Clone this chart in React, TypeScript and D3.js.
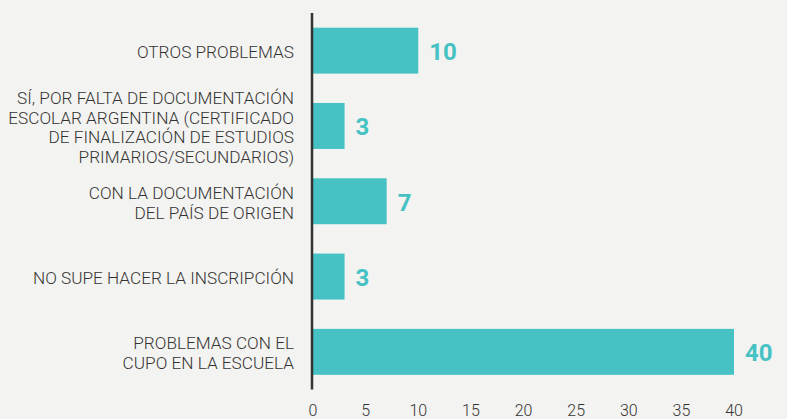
import React from "react";
import * as d3 from "d3";

const categories: string[][] = [
  ["OTROS PROBLEMAS"],
  ["SÍ, POR FALTA DE DOCUMENTACIÓN", "ESCOLAR ARGENTINA (CERTIFICADO", "DE FINALIZACIÓN DE ESTUDIOS", "PRIMARIOS/SECUNDARIOS)"],
  ["CON LA DOCUMENTACIÓN", "DEL PAÍS DE ORIGEN"],
  ["NO SUPE HACER LA INSCRIPCIÓN"],
  ["PROBLEMAS CON EL", "CUPO EN LA ESCUELA"],
];
const values: number[] = [10, 3, 7, 3, 40];
const xTicks: number[] = [0, 5, 10, 15, 20, 25, 30, 35, 40];

const W = 787;
const H = 419;
const BG = "#f3f3f1";
const TEAL = "#46c2c4";
const TEXT = "#333333";

export default function App() {
  const ids = categories.map((_, i) => String(i));
  const x = d3.scaleLinear().domain([0, 40]).range([313, 734]);
  const y = d3.scaleBand<string>().domain(ids).range([13, 389.5]).paddingInner(0.39).paddingOuter(0.195);
  const lineH = 19.8;
  return (
    <svg width={W} height={H} style={{ position: "absolute", left: 0, top: 0, display: "block" }}>
      <rect x={0} y={0} width={W} height={H} fill={BG} />
      {values.map((v, i) => {
        const y0 = y(ids[i])!;
        const bw = y.bandwidth();
        const cy = y0 + bw / 2;
        const lines = categories[i];
        return (
          <g key={i}>
            <rect x={x(0)} y={y0} width={x(v) - x(0)} height={bw} fill={TEAL} />
            <text x={x(v) + 11} y={cy + 1.5} dominantBaseline="central" fill={TEAL}
              style={{ fontFamily: "Roboto", fontWeight: 700, fontSize: 24 }}>{v}</text>
            {lines.map((l, j) => (
              <text key={j} x={294} y={cy + 1.5 + (j - (lines.length - 1) / 2) * lineH}
                textAnchor="end" dominantBaseline="central" fill={TEXT}
                style={{ fontFamily: "Roboto", fontWeight: 300, fontSize: 17.2 }}>{l}</text>
            ))}
          </g>
        );
      })}
      <line x1={312} x2={312} y1={13} y2={389.5} stroke="#333" strokeWidth={2.5} />
      {xTicks.map((t) => (
        <text key={t} x={x(t)} y={410} textAnchor="middle" dominantBaseline="central" fill={TEXT}
          style={{ fontFamily: "Roboto", fontWeight: 300, fontSize: 16 }}>{t}</text>
      ))}
    </svg>
  );
}
